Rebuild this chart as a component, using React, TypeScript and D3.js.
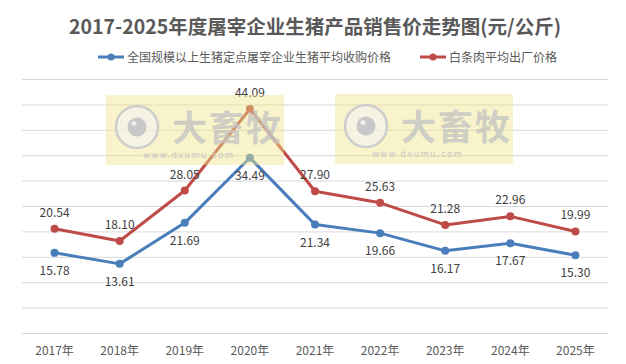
import * as d3 from "d3";
import React, { useEffect, useRef } from "react";

const years = ["2017年", "2018年", "2019年", "2020年", "2021年", "2022年", "2023年", "2024年", "2025年"];
const purchasePrice = [15.78, 13.61, 21.69, 34.49, 21.34, 19.66, 16.17, 17.67, 15.3];
const wholesalePrice = [20.54, 18.1, 28.05, 44.09, 27.9, 25.63, 21.28, 22.96, 19.99];
const seriesNames = ["全国规模以上生猪定点屠宰企业生猪平均收购价格", "白条肉平均出厂价格"];
const colors = ["#4a7ebb", "#be4b48"];
const yTicks = [0, 5, 10, 15, 20, 25, 30, 35, 40, 45, 50];

const font = "'Noto Sans CJK SC', 'Noto Sans', sans-serif";

export default function App() {
  const ref = useRef<SVGSVGElement>(null);

  useEffect(() => {
    const width = 626, height = 364;
    const svg = d3.select(ref.current);
    svg.selectAll("*").remove();

    svg.append("rect").attr("width", width).attr("height", height).attr("fill", "#fff");

    const x = d3.scaleBand().domain(years).range([22, 608]);
    const y = d3.scaleLinear().domain([0, 50]).range([333, 79]);
    const cx = (i: number) => (x(years[i]) as number) + x.bandwidth() / 2;

    // title
    svg.append("text")
      .attr("x", 315).attr("y", 34)
      .attr("text-anchor", "middle")
      .attr("font-family", font).attr("font-weight", "bold")
      .attr("font-size", 19.5).attr("fill", "#595959")
      .text("2017-2025年度屠宰企业生猪产品销售价走势图(元/公斤)");

    // legend
    const legendX = [98, 420];
    seriesNames.forEach((name, i) => {
      const g = svg.append("g").attr("transform", `translate(${legendX[i]},57)`);
      g.append("line").attr("x1", 0).attr("x2", 26).attr("y1", 0).attr("y2", 0)
        .attr("stroke", colors[i]).attr("stroke-width", 3);
      g.append("circle").attr("cx", 13).attr("r", 3.5).attr("fill", colors[i]);
      g.append("text").attr("x", 29).attr("y", 4.5)
        .attr("font-family", font).attr("font-size", 12).attr("fill", "#595959")
        .text(name);
    });

    // gridlines
    svg.append("g").selectAll("line").data(yTicks).join("line")
      .attr("x1", 22).attr("x2", 608)
      .attr("y1", d => y(d) + 0.5).attr("y2", d => y(d) + 0.5)
      .attr("stroke", "#d9d9d9").attr("stroke-width", 1);

    // x labels
    svg.append("g").selectAll("text").data(years).join("text")
      .attr("x", d => (x(d) as number) + x.bandwidth() / 2)
      .attr("y", 355)
      .attr("text-anchor", "middle")
      .attr("font-family", font).attr("font-size", 12).attr("fill", "#595959")
      .text(d => d);

    const line = d3.line<number>().x((_, i) => cx(i)).y(d => y(d));
    const series = [purchasePrice, wholesalePrice];
    series.forEach((vals, si) => {
      svg.append("path").datum(vals)
        .attr("d", line)
        .attr("fill", "none")
        .attr("stroke", colors[si]).attr("stroke-width", 3)
        .attr("stroke-linejoin", "round");
      svg.append("g").selectAll("circle").data(vals).join("circle")
        .attr("cx", (_, i) => cx(i)).attr("cy", d => y(d))
        .attr("r", 4).attr("fill", colors[si]);
      svg.append("g").selectAll("text").data(vals).join("text")
        .attr("x", (_, i) => cx(i))
        .attr("y", d => si === 0 ? y(d) + 22 : y(d) - 12)
        .attr("text-anchor", "middle")
        .attr("font-family", font).attr("font-size", 12).attr("fill", "#404040")
        .text(d => d.toFixed(2));
    });

    // watermarks
    const marks = [[106, 95], [335, 94]];
    marks.forEach(([mx, my]) => {
      const g = svg.append("g").attr("transform", `translate(${mx},${my})`);
      g.append("rect").attr("width", 178).attr("height", 70)
        .attr("fill", "#f0e48a").attr("opacity", 0.45);
      g.append("circle").attr("cx", 31).attr("cy", 32).attr("r", 21)
        .attr("fill", "#f4f4f4").attr("fill-opacity", 0.6)
        .attr("stroke", "#cdcdcd").attr("stroke-width", 2.5);
      g.append("circle").attr("cx", 31).attr("cy", 32).attr("r", 9.5).attr("fill", "#c8c8c8");
      g.append("circle").attr("cx", 28).attr("cy", 28.5).attr("r", 2.5).attr("fill", "#eee");
      g.append("text").attr("x", 66).attr("y", 46)
        .attr("font-family", font).attr("font-weight", "bold")
        .attr("font-size", 35).attr("fill", "#c2c2c2").attr("opacity", 0.75)
        .attr("letter-spacing", 2)
        .text("大畜牧");
      g.append("text").attr("x", 37).attr("y", 63)
        .attr("font-family", "'DejaVu Sans', sans-serif")
        .attr("font-size", 8.5).attr("fill", "#c8c8c8")
        .attr("letter-spacing", 1.4)
        .text("www.dxumu.com");
    });
  }, []);

  return (
    <svg ref={ref} width={626} height={364}
      style={{ position: "absolute", left: 0, top: 0, display: "block" }} />
  );
}
